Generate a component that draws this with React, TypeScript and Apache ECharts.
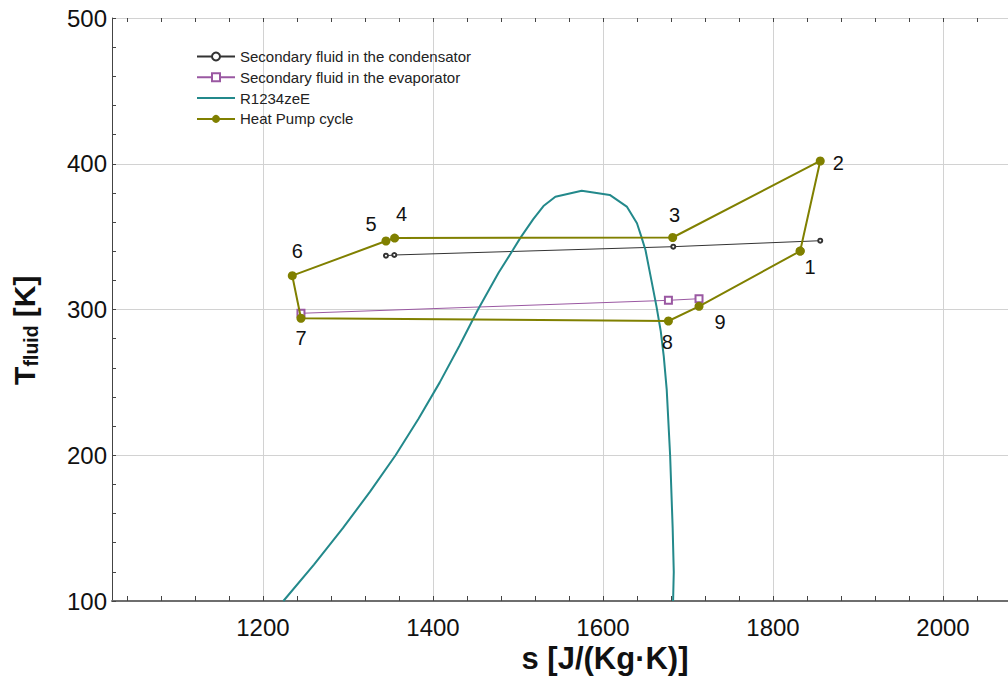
import React, { useEffect, useRef } from "react";
import * as echarts from "echarts";

// ---- axes ----
const X_MIN = 1022.4;
const X_MAX = 2076.5;
const X_LABEL_VALUES = [1200, 1400, 1600, 1800, 2000];
const X_MINOR_VALUES = [
  1040, 1080, 1120, 1160, 1200, 1240, 1280, 1320, 1360, 1400, 1440, 1480, 1520,
  1560, 1600, 1640, 1680, 1720, 1760, 1800, 1840, 1880, 1920, 1960, 2000, 2040,
];
const Y_MIN = 100;
const Y_MAX = 500;
const Y_STEP = 100;

// ---- series data ----
const COND_S = [1344.7, 1354.5, 1682.7, 1855.6];
const COND_T = [336.9, 337.4, 343.1, 347.2];

const EVAP_S = [1244.7, 1677, 1713];
const EVAP_T = [297.4, 306.3, 307.4];

const DOME_S = [
  1224, 1260, 1294, 1326, 1356, 1383, 1408, 1431, 1453, 1477, 1494, 1503, 1518,
  1530, 1544, 1575, 1608, 1628, 1640, 1645.5, 1650, 1657, 1663, 1668, 1671.5,
  1675, 1679, 1682, 1683.3, 1682.5,
];
const DOME_T = [
  100, 125, 150, 175, 200, 225, 250, 275, 300, 325, 340.8, 349.3, 362, 371,
  377.4, 381.5, 378.6, 370.6, 359.2, 349.3, 340.8, 320, 302, 285, 268, 245, 200,
  150, 120, 100,
];

const HP_NAMES = ["1", "2", "3", "4", "5", "6", "7", "8", "9"];
const HP_S = [1832, 1855.6, 1682, 1354.9, 1344.7, 1234.5, 1244.7, 1677, 1713];
const HP_T = [340.1, 401.9, 349.4, 349.0, 347.0, 323.2, 294.0, 292.1, 302.2];

const SERIES_NAMES = [
  "Secondary fluid in the condensator",
  "Secondary fluid in the evaporator",
  "R1234zeE",
  "Heat Pump cycle",
];

// label placement (style only)
const LABEL_OFFSET: Record<string, [number, number]> = {
  "1": [10, 16],
  "2": [18, 2],
  "3": [2, -22],
  "4": [7, -24],
  "5": [-15, -17],
  "6": [5, -25],
  "7": [0, 20],
  "8": [-1, 21],
  "9": [21, 16],
};

const FONT = 'Arial, "Liberation Sans", sans-serif';

export default function App() {
  const ref = useRef<HTMLDivElement>(null);

  useEffect(() => {
    if (!ref.current) return;
    const chart = echarts.init(ref.current, null, { renderer: "svg" });

    const zip = (s: number[], t: number[]) => s.map((v, i) => [v, t[i]]);

    const hpData: any[] = HP_NAMES.map((n, i) => ({
      value: [HP_S[i], HP_T[i]],
      name: n,
      label: {
        show: true,
        formatter: n,
        position: "inside",
        offset: LABEL_OFFSET[n],
        fontSize: 20,
        color: "#111",
        fontFamily: FONT,
      },
    }));
    hpData.push({ value: [HP_S[0], HP_T[0]], label: { show: false } });

    const gridColor = "#d2d2d2";

    const option: any = {
      animation: false,
      backgroundColor: "#ffffff",
      textStyle: { fontFamily: FONT },
      grid: {
        left: 112,
        top: 18,
        right: 0,
        bottom: 76,
        containLabel: false,
        outerBoundsMode: "none",
      },
      legend: {
        data: [
          SERIES_NAMES[0],
          SERIES_NAMES[1],
          { name: SERIES_NAMES[2], itemStyle: { opacity: 0 } },
          SERIES_NAMES[3],
        ],
        orient: "vertical",
        left: 191,
        top: 43,
        itemWidth: 38,
        itemHeight: 10,
        itemGap: 3.8,
        selectedMode: false,
        textStyle: { fontSize: 15, color: "#222", fontFamily: FONT, lineHeight: 17 },
      },
      xAxis: [
        {
          type: "value",
          min: X_MIN,
          max: X_MAX,
          position: "bottom",
          axisLine: { show: true, onZero: false, lineStyle: { color: "#6e6e6e", width: 2 } },
          axisTick: {
            show: true,
            inside: true,
            length: 5,
            customValues: X_MINOR_VALUES,
            lineStyle: { color: "#444" },
          },
          axisLabel: {
            customValues: X_LABEL_VALUES,
            formatter: (v: number) => String(v),
            fontSize: 24,
            margin: 14,
            color: "#111",
            fontFamily: FONT,
          },
          splitLine: { show: false },
        },
        {
          type: "value",
          min: X_MIN,
          max: X_MAX,
          position: "top",
          axisLine: { show: false, onZero: false },
          axisTick: {
            show: true,
            inside: true,
            length: 4,
            customValues: X_MINOR_VALUES,
            lineStyle: { color: "#444" },
          },
          axisLabel: { show: false },
          splitLine: { show: false },
        },
        {
          type: "value",
          min: X_MIN,
          max: X_MAX,
          position: "bottom",
          axisLine: { show: false, onZero: false },
          axisTick: { show: false, customValues: X_LABEL_VALUES },
          axisLabel: { show: false },
          splitLine: { show: true, lineStyle: { color: gridColor, width: 1 } },
        },
      ],
      yAxis: {
        type: "value",
        min: Y_MIN,
        max: Y_MAX,
        interval: Y_STEP,
        position: "left",
        axisLine: { show: true, onZero: false, lineStyle: { color: "#444", width: 1 } },
        axisTick: { show: true, inside: true, length: 4, lineStyle: { color: "#444" } },
        minorTick: { show: true, splitNumber: 5, length: 4, lineStyle: { color: "#444" } },
        axisLabel: {
          formatter: (v: number) => String(v),
          fontSize: 24,
          color: "#111",
          margin: 5,
          fontFamily: FONT,
        },
        splitLine: { show: true, lineStyle: { color: gridColor, width: 1 } },
      },
      series: [
        {
          name: SERIES_NAMES[0],
          type: "line",
          data: zip(COND_S, COND_T),
          symbol: "emptyCircle",
          symbolSize: 4,
          lineStyle: { color: "#333", width: 1 },
          itemStyle: { color: "#333" },
          z: 3,
        },
        {
          name: SERIES_NAMES[1],
          type: "line",
          data: zip(EVAP_S, EVAP_T),
          symbol: "emptyRect",
          symbolSize: 7,
          lineStyle: { color: "#9a58a2", width: 1 },
          itemStyle: { color: "#9a58a2" },
          z: 3,
        },
        {
          name: SERIES_NAMES[2],
          type: "line",
          data: zip(DOME_S, DOME_T),
          symbol: "none",
          lineStyle: { color: "#23898b", width: 2 },
          itemStyle: { color: "#23898b" },
          z: 4,
        },
        {
          name: SERIES_NAMES[3],
          type: "line",
          data: hpData,
          symbol: "circle",
          symbolSize: 9,
          lineStyle: { color: "#808000", width: 2 },
          itemStyle: { color: "#808000" },
          z: 5,
        },
      ],
      graphic: [
        {
          type: "group",
          x: 24,
          y: 385,
          rotation: Math.PI / 2,
          children: [
            {
              type: "text",
              x: 0,
              y: 0,
              style: {
                text: "T",
                fontSize: 30,
                fontWeight: "bold",
                fontFamily: FONT,
                fill: "#111",
                align: "left",
                verticalAlign: "middle",
              },
            },
            {
              type: "text",
              x: 18.5,
              y: 7,
              style: {
                text: "fluid",
                fontSize: 19.5,
                fontWeight: "bold",
                fontFamily: FONT,
                fill: "#111",
                align: "left",
                verticalAlign: "middle",
              },
            },
            {
              type: "text",
              x: 59.5,
              y: 0,
              style: {
                text: " [K]",
                fontSize: 30,
                fontWeight: "bold",
                fontFamily: FONT,
                fill: "#111",
                align: "left",
                verticalAlign: "middle",
              },
            },
          ],
        },
        {
          type: "text",
          x: 605,
          y: 658,
          style: {
            text: "s [J/(Kg·K)]",
            fontSize: 31,
            fontWeight: "bold",
            fontFamily: FONT,
            fill: "#111",
            align: "center",
            verticalAlign: "middle",
          },
        },
      ],
    };

    chart.setOption(option);
    return () => chart.dispose();
  }, []);

  return (
    <div
      ref={ref}
      style={{ position: "fixed", left: 0, top: 0, width: 1008, height: 677, background: "#fff" }}
    />
  );
}
